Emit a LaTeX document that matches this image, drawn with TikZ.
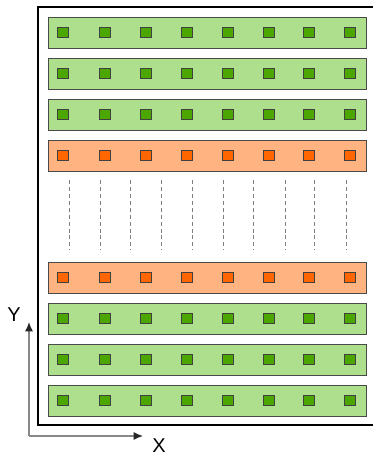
\documentclass[tikz,border=0pt]{standalone}
\usepackage{fontspec}
\setmainfont{Liberation Sans}
\usetikzlibrary{arrows.meta}
\definecolor{rowgreen}{HTML}{AEDF8C}
\definecolor{sqgreen}{HTML}{4CA600}
\definecolor{roworange}{HTML}{FFB380}
\definecolor{sqorange}{HTML}{FF6600}
\definecolor{edge}{HTML}{4A4A4A}
\definecolor{axisgrey}{HTML}{888888}
\begin{document}
\begin{tikzpicture}[x=0.75pt,y=-0.75pt,
  rowbox/.style={draw=edge,line width=0.9pt,minimum width=318*0.75pt,minimum height=31*0.75pt,inner sep=0,anchor=north west},
  greenrow/.style={rowbox,fill=rowgreen},
  orangerow/.style={rowbox,fill=roworange},
  cell/.style={draw=black!75,line width=0.9pt,minimum size=10.5*0.75pt,inner sep=0},
  greencell/.style={cell,fill=sqgreen},
  orangecell/.style={cell,fill=sqorange},
  gap/.style={draw=gray,line width=0.6pt,dash pattern=on 3pt off 2.2pt},
  axis/.style={draw=axisgrey,line width=1pt,-{Latex[length=7pt,width=6pt,color=black!85]}},
  lbl/.style={font=\fontsize{15}{15}\selectfont,inner sep=0}
]
\useasboundingbox (0,0) rectangle (372,456);
% frame
\draw[line width=1.5pt] (373,7) -- (38,7) -- (38,425) -- (373,425);
% rows
\foreach \r/\y/\k in {1/17/green,2/58/green,3/99/green,4/140/orange,5/262/orange,6/303/green,7/344/green,8/385/green}{
  \node[\k row] (row\r) at (48,\y) {};
  \foreach \c/\x in {1/63,2/105,3/146,4/187,5/228,6/269,7/309,8/350}{
    \node[\k cell] (s\r-\c) at (\x,\y+15.5) {};
  }
}
% dashed gap lines
\foreach \i/\x in {1/69,2/100,3/130,4/161,5/192,6/223,7/253,8/285,9/314,10/346}{
  \coordinate (gt\i) at (\x,180);
  \coordinate (gb\i) at (\x,250);
  \draw[gap] (gt\i) -- (gb\i);
}
% axes
\coordinate (origin) at (29,436);
\coordinate (ytip) at (29,322);
\coordinate (xtip) at (143,436);
\draw[axis] (origin) -- (ytip);
\draw[axis] (origin) -- (xtip);
\node[lbl] (ylabel) at (14,315) {Y};
\node[lbl] (xlabel) at (159,446) {X};
\end{tikzpicture}
\end{document}
